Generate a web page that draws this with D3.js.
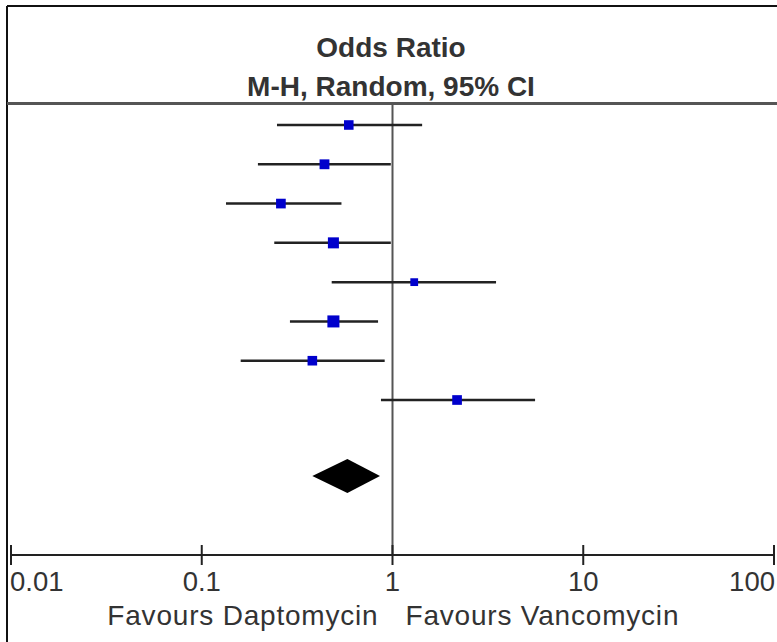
<!DOCTYPE html>
<html>
<head>
<meta charset="utf-8">
<script src="https://cdn.jsdelivr.net/npm/d3@7"></script>
<style>
  html, body { margin: 0; padding: 0; background: #fff; }
  svg { display: block; }
  text { font-family: "Liberation Sans", Arial, sans-serif; fill: #333; }
</style>
</head>
<body>
<svg id="chart" width="777" height="642"></svg>
<script>
// Study-level odds ratios with 95% confidence limits (M-H, random effects)
const studies   = ["Study 1", "Study 2", "Study 3", "Study 4", "Study 5", "Study 6", "Study 7", "Study 8"];
const oddsRatio = [0.59, 0.44, 0.26, 0.49, 1.30, 0.49, 0.38, 2.18];
const ciLower   = [0.248, 0.197, 0.134, 0.24, 0.48, 0.29, 0.16, 0.87];
const ciUpper   = [1.43, 0.98, 0.54, 0.98, 3.49, 0.84, 0.91, 5.59];
const weights   = [11.5, 12.2, 11.8, 15.3, 7.6, 18.2, 11.6, 11.8];

// Pooled estimate
const pooled = { or: 0.58, lo: 0.38, hi: 0.86 };

const tickValues = [0.01, 0.1, 1, 10, 100];
const tickLabels = ["0.01", "0.1", "1", "10", "100"];
const titleLines = ["Odds Ratio", "M-H, Random, 95% CI"];
const favourLeft = "Favours Daptomycin";
const favourRight = "Favours Vancomycin";

const svg = d3.select("#chart");

const x = d3.scaleLog().domain([0.01, 100]).range([11, 774]);
const y = d3.scaleLinear().domain([0, 7]).range([125, 400]);
const size = d3.scaleSqrt().domain([0, 20]).range([0, 12.6]);

// Frame (top and left edges)
svg.append("line").attr("x1", 7).attr("x2", 777).attr("y1", 6).attr("y2", 6)
  .attr("stroke", "#111").attr("stroke-width", 2);
svg.append("line").attr("x1", 7).attr("x2", 7).attr("y1", 6).attr("y2", 642)
  .attr("stroke", "#111").attr("stroke-width", 2);

// Column header
svg.append("text").attr("x", 391).attr("y", 57).attr("text-anchor", "middle")
  .attr("font-size", 28).attr("font-weight", "bold").text(titleLines[0]);
svg.append("text").attr("x", 391).attr("y", 96).attr("text-anchor", "middle")
  .attr("font-size", 28).attr("font-weight", "bold").text(titleLines[1]);

// Header rule
svg.append("line").attr("x1", 7).attr("x2", 777).attr("y1", 103.5).attr("y2", 103.5)
  .attr("stroke", "#555").attr("stroke-width", 3);

// Line of no effect
svg.append("line").attr("x1", x(1)).attr("x2", x(1)).attr("y1", 104).attr("y2", 555)
  .attr("stroke", "#555").attr("stroke-width", 2);

// Confidence intervals
const rows = studies.map((s, i) => ({ s, i, or: oddsRatio[i], lo: ciLower[i], hi: ciUpper[i], w: weights[i] }));
svg.append("g").selectAll("line").data(rows).join("line")
  .attr("x1", d => x(d.lo)).attr("x2", d => x(d.hi))
  .attr("y1", d => y(d.i)).attr("y2", d => y(d.i))
  .attr("stroke", "#222").attr("stroke-width", 2.5);

// Point estimates, sized by weight
svg.append("g").selectAll("rect").data(rows).join("rect")
  .attr("x", d => x(d.or) - size(d.w) / 2)
  .attr("y", d => y(d.i) - size(d.w) / 2)
  .attr("width", d => size(d.w)).attr("height", d => size(d.w))
  .attr("fill", "#0000cc");

// Pooled diamond
const yd = 476, hd = 17;
svg.append("path")
  .attr("d", `M${x(pooled.lo)},${yd} L${x(pooled.or)},${yd - hd} L${x(pooled.hi)},${yd} L${x(pooled.or)},${yd + hd} Z`)
  .attr("fill", "#000");

// Axis
const axisY = 555;
svg.append("line").attr("x1", x(0.01)).attr("x2", x(100)).attr("y1", axisY).attr("y2", axisY)
  .attr("stroke", "#222").attr("stroke-width", 2);
svg.append("g").selectAll("line").data(tickValues).join("line")
  .attr("x1", d => x(d)).attr("x2", d => x(d))
  .attr("y1", axisY - 10).attr("y2", axisY + 10)
  .attr("stroke", "#222").attr("stroke-width", 2);
svg.append("g").selectAll("text").data(tickValues).join("text")
  .attr("x", (d, i) => i === 0 ? x(d) - 1 : (i === tickValues.length - 1 ? x(d) + 1 : x(d)))
  .attr("y", 591)
  .attr("text-anchor", (d, i) => i === 0 ? "start" : (i === tickValues.length - 1 ? "end" : "middle"))
  .attr("font-size", 27.5)
  .text((d, i) => tickLabels[i]);

// Direction labels
svg.append("text").attr("x", x(1) - 14).attr("y", 625).attr("text-anchor", "end")
  .attr("font-size", 28).attr("letter-spacing", 0.8).text(favourLeft);
svg.append("text").attr("x", x(1) + 13).attr("y", 625).attr("text-anchor", "start")
  .attr("font-size", 28).attr("letter-spacing", 0.8).text(favourRight);
</script>
</body>
</html>
